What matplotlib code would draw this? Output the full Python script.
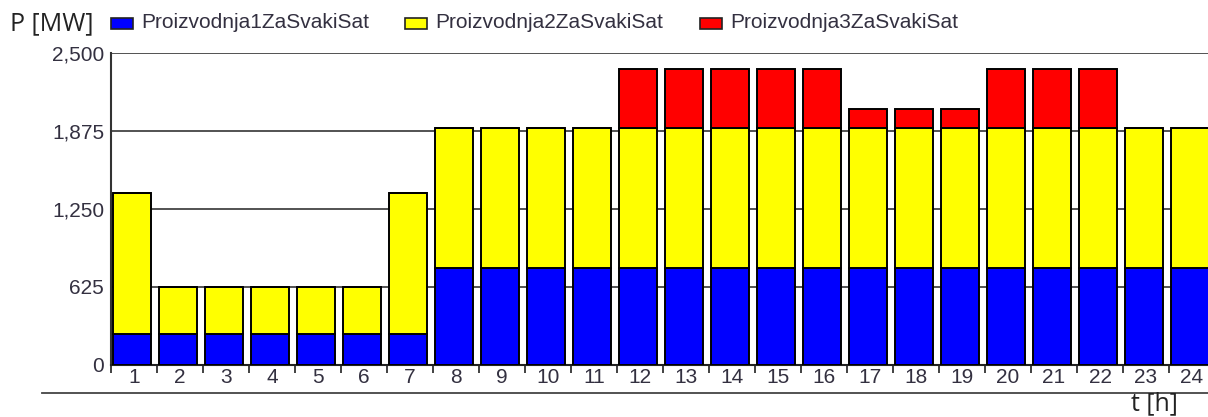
import matplotlib
matplotlib.use("Agg")
import matplotlib.pyplot as plt
from matplotlib.patches import Rectangle
import numpy as np

hours = list(range(1, 25))
p1 = [250]*7 + [775]*17
p2 = [1125, 375, 375, 375, 375, 375, 1125] + [1125]*17
p3 = [0]*11 + [475, 475, 475, 475, 475, 150, 150, 150, 475, 475, 475, 0, 0]
names = ["Proizvodnja1ZaSvakiSat", "Proizvodnja2ZaSvakiSat", "Proizvodnja3ZaSvakiSat"]
colors = ["#0000ff", "#ffff00", "#ff0000"]
yticks = [0, 625, 1250, 1875, 2500]

W, H = 1208, 417
fig = plt.figure(figsize=(W/100, H/100), dpi=100)
# axes spans past the right edge, as in the original screenshot
left, right, top, bottom = 111, 1215, 53, 365
ax = fig.add_axes([left/W, 1-bottom/H, (right-left)/W, (bottom-top)/H])

tc = "#333040"
fs = 15
x = np.arange(1, 25)
base = np.zeros(24)
for vals, c in zip([p1, p2, p3], colors):
    ax.bar(x - 0.04, vals, bottom=base, width=0.83, color=c, edgecolor="black",
           linewidth=1.4, zorder=3)
    base += np.array(vals)

ax.set_xlim(0.5, 24.5)
ax.set_ylim(0, 2500)
ax.set_yticks(yticks)
ax.set_yticklabels([f"{v:,}" for v in yticks], fontsize=fs, color=tc,
                   family="Liberation Sans")
ax.yaxis.grid(True, color="#444444", linewidth=1.3, zorder=0)
ax.tick_params(axis="y", length=0, pad=5)
ax.set_xticks(x)
ax.set_xticklabels([str(h) for h in hours], fontsize=fs, color=tc,
                   family="Liberation Sans")
ax.set_xticks(np.arange(0.5, 24.5, 1), minor=True)
ax.tick_params(axis="x", which="major", length=0, pad=2)
ax.tick_params(axis="x", which="minor", length=6, width=1.3, color="#333333")
for s in ["top", "right"]:
    ax.spines[s].set_visible(False)
ax.spines["left"].set_linewidth(1.5)
ax.spines["bottom"].set_linewidth(1.5)
ax.spines["left"].set_color("#333333")
ax.spines["bottom"].set_color("#222222")

# legend row
fig.text(10/W, 1-24/H, "P [MW]", fontsize=18, color="#222222",
         family="Open Sans", va="center", ha="left")
lx = [111, 405, 700]
for xx, n, c in zip(lx, names, colors):
    fig.patches.append(Rectangle((xx/W, 1-29/H), 22/W, 11/H, facecolor=c,
                                 edgecolor="#222222", linewidth=1.2,
                                 transform=fig.transFigure, figure=fig))
    fig.text((xx+30)/W, 1-23/H, n, fontsize=fs, color=tc,
             family="Liberation Sans", va="center", ha="left")

# line under x labels and axis title
fig.add_artist(plt.Line2D([42/W, 1], [1-393/H, 1-393/H], color="#444444",
                          linewidth=1.3, transform=fig.transFigure))
fig.text(1131/W, 1-404/H, "t [h]", fontsize=18, color="#222222",
         family="Open Sans", va="center", ha="left")

fig.savefig("out.png", dpi=100)
